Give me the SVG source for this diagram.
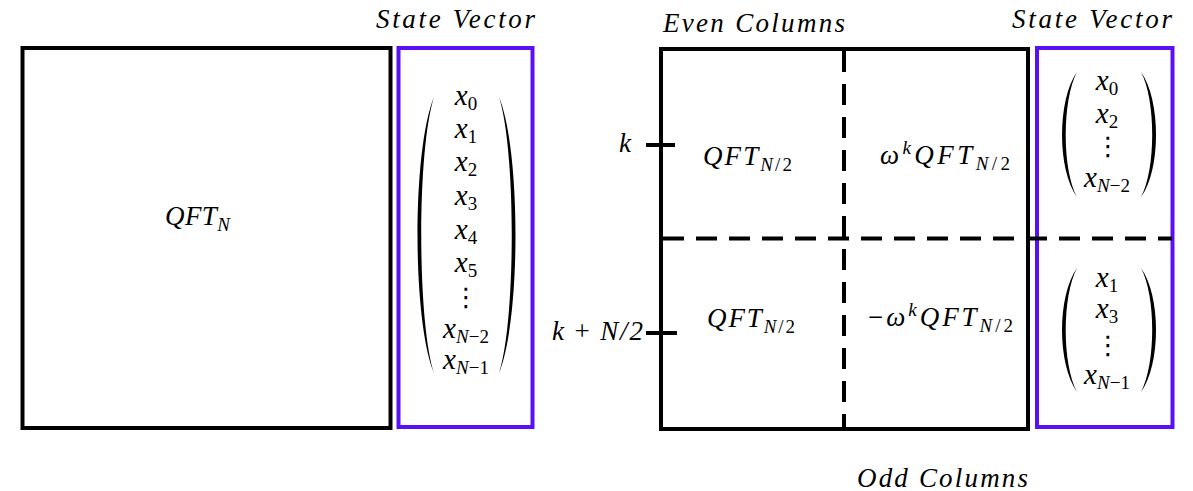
<svg xmlns="http://www.w3.org/2000/svg" width="1193" height="491" viewBox="0 0 1193 491">
<style>
.box{fill:none;stroke:#000;stroke-width:4}
.vec{fill:none;stroke:#5a10f5;stroke-width:4}
.dash{fill:none;stroke:#000;stroke-width:4;stroke-dasharray:21 12}
.tick{stroke:#000;stroke-width:4}
.paren{fill:#000}
.title{font-family:"Liberation Serif",serif;font-style:italic;font-size:27px;fill:#000}
.m{font-family:"Liberation Serif",serif;font-style:italic;font-size:27px;fill:#000}
.v{font-family:"Liberation Serif",serif;font-style:italic;font-size:29px;fill:#000;text-anchor:middle}
.s{font-size:19px;font-style:normal}
.si{font-size:19px;font-style:italic}
.dots{font-family:"DejaVu Sans",sans-serif;font-size:26px;fill:#000;text-anchor:middle}
</style>
<rect width="1193" height="491" fill="#fff"/>

<g id="qft-n">
<rect class="box" x="22.5" y="48" width="368" height="380"/>
<text class="m" x="165" y="225" textLength="65" lengthAdjust="spacing">QFT<tspan class="si" dy="6">N</tspan></text>
</g>

<g id="state-vector-left">
<text class="title" x="376" y="28" textLength="159" lengthAdjust="spacing">State Vector</text>
<rect class="vec" x="398.5" y="48" width="134" height="379"/>
<path class="paren" d="M434,97 C412,150 412,320 434,373 C417,320 417,150 434,97 Z"/>
<path class="paren" d="M499,97 C521,150 521,320 499,373 C516,320 516,150 499,97 Z"/>
<text class="v" x="466" y="105">x<tspan class="s" dy="5">0</tspan></text>
<text class="v" x="466" y="138">x<tspan class="s" dy="5">1</tspan></text>
<text class="v" x="466" y="171">x<tspan class="s" dy="5">2</tspan></text>
<text class="v" x="466" y="205">x<tspan class="s" dy="5">3</tspan></text>
<text class="v" x="466" y="239">x<tspan class="s" dy="5">4</tspan></text>
<text class="v" x="466" y="272">x<tspan class="s" dy="5">5</tspan></text>
<text class="dots" x="466" y="306">⋮</text>
<text class="v" x="466" y="338">x<tspan class="si" dy="5">N</tspan><tspan class="s">−2</tspan></text>
<text class="v" x="466" y="369">x<tspan class="si" dy="5">N</tspan><tspan class="s">−1</tspan></text>
</g>

<g id="split-matrix">
<rect class="box" x="661" y="49" width="367" height="380"/>
<text class="title" x="663" y="32" textLength="182" lengthAdjust="spacing">Even Columns</text>
<text class="title" x="857" y="487" textLength="171" lengthAdjust="spacing">Odd Columns</text>
</g>

<g id="block-tl">
<text class="m" x="703" y="165" textLength="89" lengthAdjust="spacing">QFT<tspan class="si" dy="6">N</tspan><tspan class="s">/2</tspan></text>
</g>
<g id="block-tr">
<text class="m" x="880" y="164" textLength="130" lengthAdjust="spacing">ω<tspan class="si" dy="-10">k</tspan><tspan dy="10">QFT</tspan><tspan class="si" dy="6">N</tspan><tspan class="s">/2</tspan></text>
</g>
<g id="block-bl">
<text class="m" x="707" y="327" textLength="88" lengthAdjust="spacing">QFT<tspan class="si" dy="6">N</tspan><tspan class="s">/2</tspan></text>
</g>
<g id="block-br">
<text class="m" x="868" y="326" textLength="145" lengthAdjust="spacing"><tspan font-style="normal">−</tspan>ω<tspan class="si" dy="-10">k</tspan><tspan dy="10">QFT</tspan><tspan class="si" dy="6">N</tspan><tspan class="s">/2</tspan></text>
</g>

<g id="row-k">
<text class="m" x="619" y="152">k</text>
<line class="tick" x1="646" y1="145" x2="675" y2="145"/>
</g>
<g id="row-k-n2">
<text class="m" x="552" y="340" textLength="91" lengthAdjust="spacing">k <tspan font-style="normal">+</tspan> N/2</text>
<line class="tick" x1="646" y1="333" x2="677" y2="333"/>
</g>

<g id="state-vector-right">
<text class="title" x="1012" y="28" textLength="160" lengthAdjust="spacing">State Vector</text>
<rect class="vec" x="1037" y="48" width="135.5" height="379"/>
<path class="paren" d="M1077,72 C1057,100 1057,170 1077,197 C1062,170 1062,100 1077,72 Z"/>
<path class="paren" d="M1141,72 C1161,100 1161,170 1141,197 C1156,170 1156,100 1141,72 Z"/>
<text class="v" x="1107" y="90">x<tspan class="s" dy="5">0</tspan></text>
<text class="v" x="1107" y="123">x<tspan class="s" dy="5">2</tspan></text>
<text class="dots" x="1108" y="155">⋮</text>
<text class="v" x="1107" y="187">x<tspan class="si" dy="5">N</tspan><tspan class="s">−2</tspan></text>
<path class="paren" d="M1077,268 C1057,296 1057,364 1077,392 C1062,364 1062,296 1077,268 Z"/>
<path class="paren" d="M1141,268 C1161,296 1161,364 1141,392 C1156,364 1156,296 1141,268 Z"/>
<text class="v" x="1107" y="287">x<tspan class="s" dy="5">1</tspan></text>
<text class="v" x="1107" y="318">x<tspan class="s" dy="5">3</tspan></text>
<text class="dots" x="1108" y="354">⋮</text>
<text class="v" x="1107" y="384">x<tspan class="si" dy="5">N</tspan><tspan class="s">−1</tspan></text>
</g>

<g id="connectors">
<line class="dash" x1="844" y1="51" x2="844" y2="427"/>
<line class="dash" x1="663" y1="238.5" x2="1172" y2="238.5"/>
</g>
</svg>
